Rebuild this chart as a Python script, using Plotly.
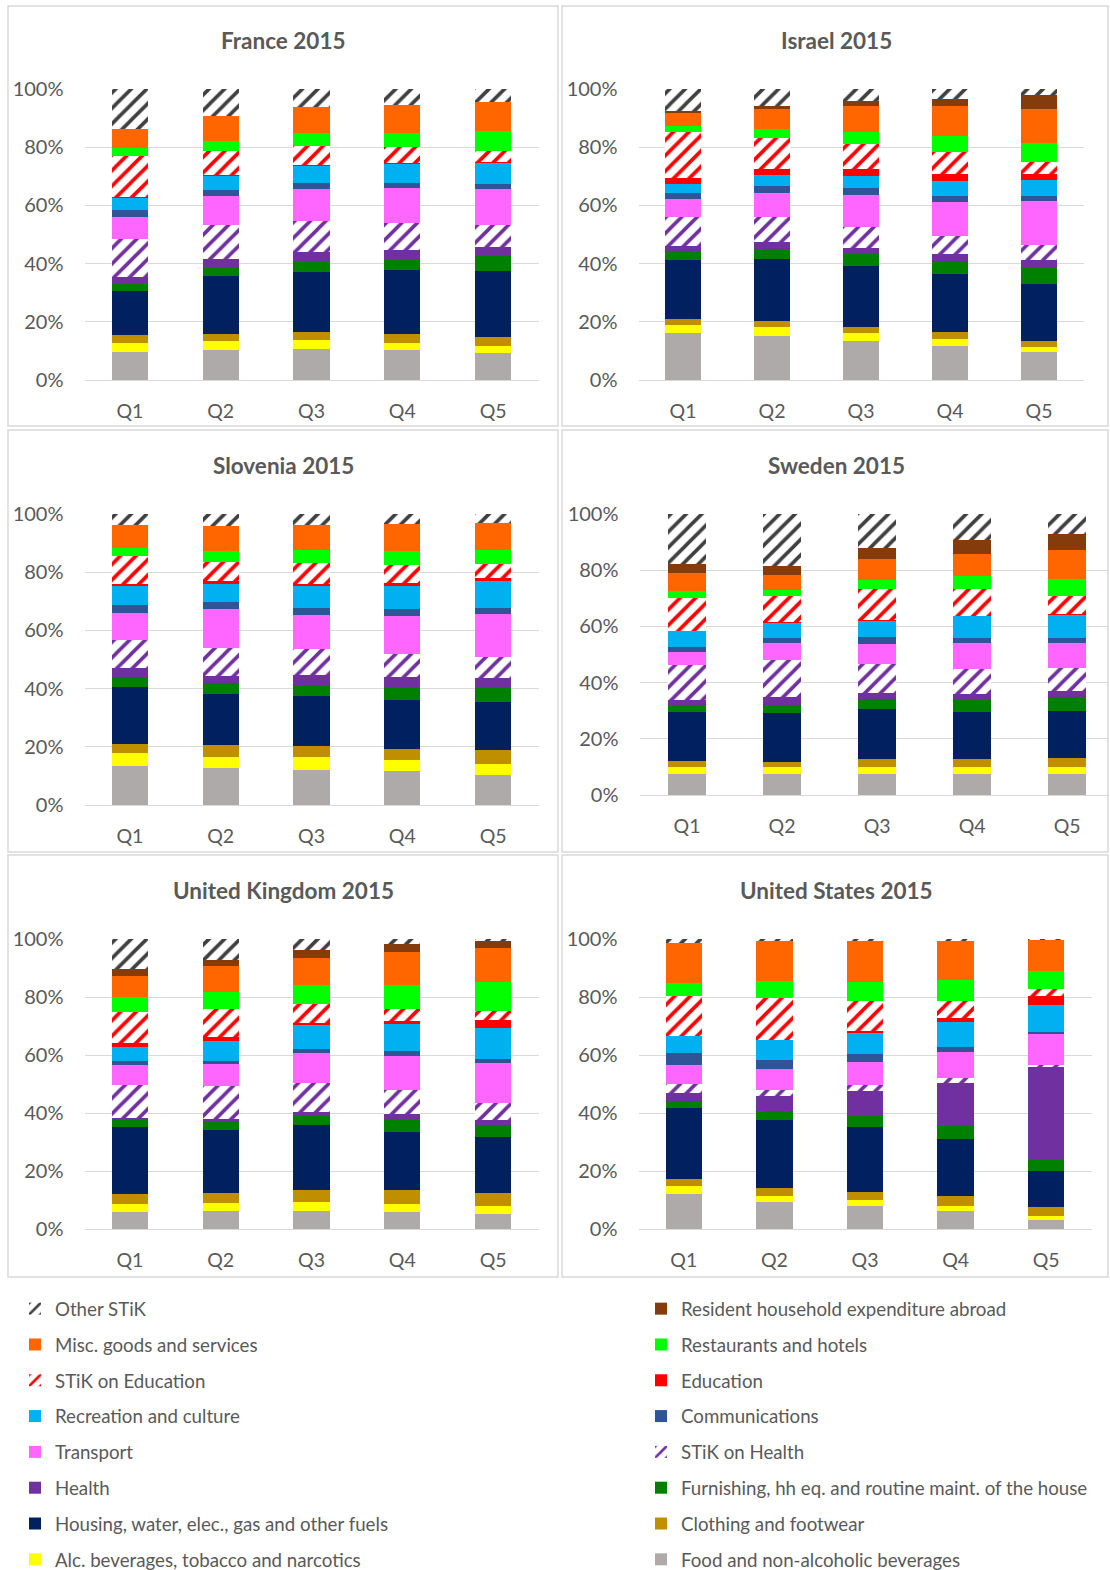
import plotly.graph_objects as go

QUINTILES = ["Q1", "Q2", "Q3", "Q4", "Q5"]
Y_TICKS = [0, 20, 40, 60, 80, 100]
Y_TICK_LABELS = ["0%", "20%", "40%", "60%", "80%", "100%"]

# Stack order (bottom -> top)
CATEGORY_KEYS = ["food", "alc", "cloth", "housing", "furn", "health", "stik_h", "transport",
                 "comm", "rec", "edu", "stik_e", "rest", "misc", "abroad", "other"]

CATEGORY_NAMES = {
    "food": "Food and non-alcoholic beverages",
    "alc": "Alc. beverages, tobacco and narcotics",
    "cloth": "Clothing and footwear",
    "housing": "Housing, water, elec., gas and other fuels",
    "furn": "Furnishing, hh eq. and routine maint. of the house",
    "health": "Health",
    "stik_h": "STiK on Health",
    "transport": "Transport",
    "comm": "Communications",
    "rec": "Recreation and culture",
    "edu": "Education",
    "stik_e": "STiK on Education",
    "rest": "Restaurants and hotels",
    "misc": "Misc. goods and services",
    "abroad": "Resident household expenditure abroad",
    "other": "Other STiK",
}

CATEGORY_COLORS = {
    "food": "#AEAAAA", "alc": "#FFFF00", "cloth": "#BF8F00", "housing": "#002060",
    "furn": "#008000", "health": "#7030A0", "stik_h": "#7030A0", "transport": "#FF66FF",
    "comm": "#2F5597", "rec": "#00B0F0", "edu": "#FF0000", "stik_e": "#FF0000",
    "rest": "#00FF00", "misc": "#FF6600", "abroad": "#843C0C", "other": "#404040",
}
PATTERNED = ["stik_h", "stik_e", "other"]

# Legend order (two columns, read row by row)
LEGEND_ORDER = ["other", "abroad", "misc", "rest", "stik_e", "edu", "rec", "comm",
                "transport", "stik_h", "health", "furn", "housing", "cloth", "alc", "food"]

# Shares (%) by quintile Q1..Q5
FRANCE = {
    "food": [9.7, 10.3, 10.7, 10.3, 9.4], "alc": [2.9, 3.2, 3.0, 2.6, 2.4],
    "cloth": [2.9, 2.5, 2.7, 2.8, 3.0], "housing": [15.2, 19.7, 20.8, 22.2, 22.8],
    "furn": [2.5, 2.9, 3.5, 3.6, 5.1], "health": [2.5, 3.0, 3.3, 3.2, 3.1],
    "stik_h": [13.0, 11.7, 10.9, 9.4, 7.5], "transport": [7.5, 9.9, 10.9, 12.1, 12.6],
    "comm": [2.4, 2.2, 2.0, 1.7, 1.6], "rec": [4.4, 4.9, 6.0, 6.6, 7.3],
    "edu": [0.2, 0.2, 0.2, 0.3, 0.3], "stik_e": [14.1, 8.5, 6.7, 5.5, 4.0],
    "rest": [2.9, 3.4, 4.3, 4.8, 6.8], "misc": [6.5, 8.5, 9.0, 9.8, 9.9],
    "abroad": [0, 0, 0, 0, 0], "other": [13.7, 9.3, 6.2, 5.4, 4.5],
}
ISRAEL = {
    "food": [16.0, 15.2, 13.4, 11.8, 9.7], "alc": [2.9, 2.9, 2.6, 2.3, 1.6],
    "cloth": [2.1, 2.2, 2.2, 2.3, 2.1], "housing": [20.2, 21.2, 20.9, 20.1, 19.4],
    "furn": [3.2, 3.6, 4.2, 4.5, 5.5], "health": [1.8, 2.2, 2.2, 2.3, 2.9],
    "stik_h": [9.8, 8.7, 7.1, 6.2, 5.0], "transport": [6.2, 8.4, 10.9, 11.7, 15.2],
    "comm": [2.2, 2.4, 2.6, 2.1, 1.9], "rec": [2.8, 3.5, 4.0, 5.0, 5.2],
    "edu": [2.1, 2.1, 2.3, 2.5, 2.2], "stik_e": [15.9, 10.9, 8.7, 7.7, 4.2],
    "rest": [2.0, 2.8, 4.2, 5.3, 6.3], "misc": [4.7, 7.0, 9.0, 10.2, 11.8],
    "abroad": [0.7, 1.2, 1.7, 2.7, 4.7], "other": [7.4, 5.7, 4.0, 3.3, 2.2],
}
SLOVENIA = {
    "food": [13.5, 12.5, 12.1, 11.6, 10.4], "alc": [4.3, 4.0, 4.4, 3.9, 3.5],
    "cloth": [3.3, 3.8, 3.7, 3.9, 4.9], "housing": [19.6, 17.4, 17.3, 16.6, 16.4],
    "furn": [3.4, 3.7, 3.7, 4.3, 4.9], "health": [3.0, 2.7, 3.5, 3.7, 3.4],
    "stik_h": [9.6, 9.2, 8.8, 7.9, 7.2], "transport": [9.3, 13.4, 11.7, 13.0, 14.7],
    "comm": [2.8, 2.5, 2.5, 2.6, 2.1], "rec": [6.5, 6.4, 7.4, 7.8, 9.1],
    "edu": [0.8, 0.6, 0.8, 0.9, 1.1], "stik_e": [9.5, 6.6, 7.4, 6.3, 4.8],
    "rest": [2.8, 3.7, 4.2, 4.8, 4.8], "misc": [7.8, 8.5, 8.7, 9.1, 9.2],
    "abroad": [0, 0, 0, 0, 0], "other": [3.8, 4.1, 3.8, 3.6, 3.0],
}
SWEDEN = {
    "food": [7.4, 7.6, 7.6, 7.6, 7.4], "alc": [2.4, 2.4, 2.4, 2.4, 2.4],
    "cloth": [2.3, 1.7, 2.8, 3.0, 3.4], "housing": [17.3, 17.5, 17.9, 16.5, 16.8],
    "furn": [2.5, 2.8, 3.6, 4.3, 5.0], "health": [1.9, 2.9, 2.0, 2.1, 2.2],
    "stik_h": [12.5, 13.3, 10.4, 8.9, 8.0], "transport": [4.5, 6.0, 7.2, 9.3, 8.8],
    "comm": [1.8, 1.9, 2.3, 1.9, 1.8], "rec": [5.9, 5.3, 6.1, 7.8, 8.5],
    "edu": [0.1, 0.1, 0.1, 0.1, 0.1], "stik_e": [11.7, 9.4, 11.0, 9.5, 6.4],
    "rest": [2.5, 2.3, 3.1, 4.5, 6.0], "misc": [6.2, 5.0, 7.7, 8.0, 10.6],
    "abroad": [3.3, 3.4, 3.8, 5.1, 5.6], "other": [17.8, 18.5, 12.1, 9.1, 7.1],
}
UNITED_KINGDOM = {
    "food": [5.9, 6.2, 6.2, 5.9, 5.2], "alc": [2.8, 2.8, 3.0, 2.8, 2.6],
    "cloth": [3.5, 3.5, 4.4, 4.6, 4.6], "housing": [23.0, 21.7, 22.3, 20.0, 19.2],
    "furn": [2.3, 2.7, 3.1, 4.4, 4.2], "health": [0.8, 1.1, 1.2, 1.8, 1.7],
    "stik_h": [11.3, 11.3, 10.2, 8.4, 5.9], "transport": [7.0, 7.5, 10.4, 11.9, 13.6],
    "comm": [1.3, 1.3, 1.3, 1.5, 1.3], "rec": [5.0, 6.6, 8.1, 9.4, 10.7],
    "edu": [1.4, 1.6, 0.8, 1.0, 2.8], "stik_e": [10.7, 9.4, 6.6, 4.0, 3.1],
    "rest": [5.1, 6.0, 6.5, 8.6, 9.8], "misc": [7.2, 9.0, 9.5, 11.2, 11.7],
    "abroad": [2.2, 2.2, 2.6, 2.8, 2.4], "other": [10.5, 7.1, 3.8, 1.7, 0.8],
}
UNITED_STATES = {
    "food": [12.1, 9.3, 7.8, 6.1, 3.2], "alc": [2.6, 2.2, 2.3, 1.8, 1.3],
    "cloth": [2.7, 2.8, 2.8, 3.4, 3.0], "housing": [24.4, 23.3, 22.2, 19.8, 12.5],
    "furn": [2.5, 3.0, 3.9, 4.3, 3.8], "health": [2.6, 5.1, 8.7, 14.9, 32.2],
    "stik_h": [3.0, 2.4, 2.1, 1.7, 0.5], "transport": [6.6, 7.0, 7.7, 8.9, 10.6],
    "comm": [4.1, 3.2, 2.8, 1.9, 1.0], "rec": [6.0, 6.9, 7.4, 8.7, 9.0],
    "edu": [0, 0, 0.7, 1.2, 3.2], "stik_e": [13.6, 14.4, 10.2, 5.8, 2.4],
    "rest": [4.7, 5.9, 6.7, 7.2, 6.4], "misc": [13.8, 13.7, 14.1, 13.6, 10.6],
    "abroad": [0, 0, 0, 0, 0], "other": [1.3, 0.8, 0.6, 0.7, 0.3],
}

PANEL_TITLES = ["France 2015", "Israel 2015", "Slovenia 2015", "Sweden 2015",
                "United Kingdom 2015", "United States 2015"]
PANEL_DATA = [FRANCE, ISRAEL, SLOVENIA, SWEDEN, UNITED_KINGDOM, UNITED_STATES]

# ---------------- layout geometry (pixels) ----------------
W, H = 1110, 1570
# plot areas: (x0, x1, y_top, y_bottom, x_range_max)
PLOT_BOXES = [
    (84.5, 538.5, 89, 380, 4.5),
    (638.5, 1083.5, 89, 380, 4.5),
    (84.5, 538.5, 514, 805, 4.5),
    (639.5, 1108, 514, 795, 4.43),
    (84.5, 538.5, 939, 1229, 4.5),
    (638.5, 1091.5, 939, 1229, 4.5),
]
PANEL_BOXES = [
    (8, 558, 6, 426), (562, 1108, 6, 426),
    (8, 558, 430, 852), (562, 1108, 430, 852),
    (8, 558, 855, 1277), (562, 1108, 855, 1277),
]
TITLE_POS = [(283, 41), (836, 41), (283, 466), (836, 466), (283, 890), (836, 890)]

TXT = "#595959"
GRID = "#D9D9D9"
FONT = "Lato"

fig = go.Figure()

for p, data in enumerate(PANEL_DATA):
    sfx = "" if p == 0 else str(p + 1)
    for key in CATEGORY_KEYS:
        color = CATEGORY_COLORS[key]
        if key in PATTERNED:
            marker = dict(color=color, line=dict(width=0),
                          pattern=dict(shape="/", fgcolor=color, bgcolor="white",
                                       size=11, solidity=0.33, fillmode="replace"))
        else:
            marker = dict(color=color, line=dict(width=0))
        li = LEGEND_ORDER.index(key)
        fig.add_trace(go.Bar(
            x=QUINTILES, y=data[key], name=CATEGORY_NAMES[key],
            marker=marker, xaxis="x" + sfx, yaxis="y" + sfx,
            legendgroup=key, showlegend=(p == 0), legendrank=li + 1,
            legend="legend" if li % 2 == 0 else "legend2",
        ))

layout = dict(
    width=W, height=H, autosize=False,
    margin=dict(l=0, r=0, t=0, b=0, autoexpand=False),
    paper_bgcolor="white", plot_bgcolor="white",
    barmode="stack", barnorm="percent", bargap=0.6,
    font=dict(family=FONT, color=TXT, size=18),
    showlegend=True,
)

annotations = []
shapes = []
for p, (x0, x1, yt, yb, xr) in enumerate(PLOT_BOXES):
    sfx = "" if p == 0 else str(p + 1)
    layout["xaxis" + sfx] = dict(
        domain=[x0 / W, x1 / W], anchor="y" + sfx, type="category",
        range=[-0.5, xr], showgrid=False, showline=False, zeroline=False,
        ticks="", tickfont=dict(family=FONT, size=19.5, color=TXT),
        ticklabelstandoff=17, fixedrange=True, automargin=False,
    )
    layout["yaxis" + sfx] = dict(
        domain=[1 - yb / H, 1 - yt / H], anchor="x" + sfx,
        range=[0, 100], tickmode="array", tickvals=Y_TICKS, ticktext=Y_TICK_LABELS,
        showgrid=True, gridcolor=GRID, gridwidth=1,
        zeroline=True, zerolinecolor=GRID, zerolinewidth=1,
        showline=False, ticks="", tickfont=dict(family=FONT, size=20, color=TXT),
        ticklabelstandoff=20, fixedrange=True, automargin=False,
    )
    tx, ty = TITLE_POS[p]
    annotations.append(dict(
        text="<b>" + PANEL_TITLES[p] + "</b>", x=tx / W, y=1 - ty / H,
        xref="paper", yref="paper", xanchor="center", yanchor="middle",
        showarrow=False, font=dict(family=FONT, size=22.5, color=TXT),
    ))

for (x0, x1, y0, y1) in PANEL_BOXES:
    shapes.append(dict(type="rect", xref="paper", yref="paper",
                       x0=x0 / W, x1=x1 / W, y0=1 - y1 / H, y1=1 - y0 / H,
                       line=dict(color=GRID, width=1.5), fillcolor="rgba(0,0,0,0)",
                       layer="below"))

legend_common = dict(
    orientation="v", traceorder="grouped", tracegroupgap=8.5,
    font=dict(family=FONT, size=18.7, color=TXT),
    bgcolor="rgba(0,0,0,0)", borderwidth=0,
    xanchor="left", yanchor="top", itemclick=False, itemdoubleclick=False,
)
layout["legend"] = dict(legend_common, x=15 / W, y=1 - 1290 / H)
layout["legend2"] = dict(legend_common, x=641 / W, y=1 - 1290 / H)
layout["annotations"] = annotations
layout["shapes"] = shapes

fig.update_layout(**layout)

# pin the figure to the window origin (no page margins, no extra page height)
PAGE_SCRIPT = (
    "document.documentElement.style.margin='0';"
    "document.documentElement.style.overflow='hidden';"
    "document.body.style.margin='0';document.body.style.padding='0';"
    "document.body.style.overflow='hidden';"
    "var gd=document.getElementById('{plot_id}');"
    "gd.style.position='fixed';gd.style.top='0px';gd.style.left='0px';"
)
fig.write_html("out.html", config={"displayModeBar": False}, post_script=PAGE_SCRIPT)
